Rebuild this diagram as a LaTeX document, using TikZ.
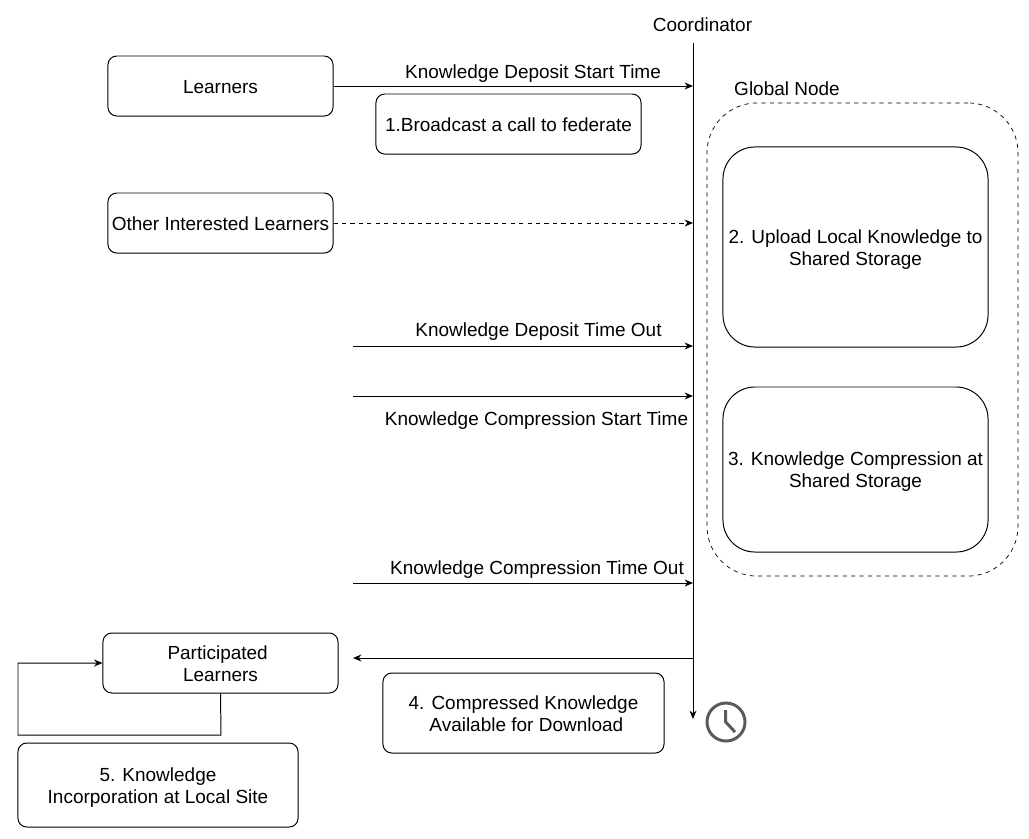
\documentclass[tikz,border=0pt]{standalone}
\usepackage{fontspec}
\setmainfont{Liberation Sans}
\usetikzlibrary{arrows.meta,positioning}
\newcommand{\topgap}[1][11.2pt]{\rule{0pt}{#1}}
\tikzset{
	box/.style={draw,rounded corners=0.22cm,line width=0.7pt,align=center,inner sep=0pt},
	bigbox/.style={box,rounded corners=0.8cm},
	label/.style={inner sep=0pt,align=center},
	flow/.style={-{Stealth[length=6pt,width=5pt]},line width=0.7pt},
	clockline/.style={draw=black!65,line width=2.1pt}
}

\begin{document}
\begin{tikzpicture}[x=0.025cm,y=-0.025cm,font=\fontsize{13.5}{15.6}\selectfont]
	\useasboundingbox (0,0) rectangle (1029,838);
	
	\node[label] (coordinator) at (702.5,25) {Coordinator};
	\node[label] (globallabel) at (787,88.5) {Global Node};
	
	\node[box,minimum width=5.625cm,minimum height=1.5cm] (learners) at (220.5,86) {\topgap Learners};
	\node[box,minimum width=6.625cm,minimum height=1.5cm] (broadcast) at (508.5,124) {\topgap 1.Broadcast a call to federate};
	\node[box,minimum width=5.625cm,minimum height=1.5cm] (others) at (220.5,223) {\topgap Other Interested Learners};
	\node[box,minimum width=5.875cm,minimum height=1.5cm] (participated) at (220.5,663) {\topgap Participated\kern0.3em\\Learners};
	\node[box,minimum width=7.025cm,minimum height=2cm] (available) at (523.5,713) {\topgap 4. Compressed Knowledge\\\kern0.3em Available for Download};
	\node[box,minimum width=7cm,minimum height=2.1cm] (incorporate) at (158,785) {\topgap[13.4pt]5. Knowledge\\Incorporation at Local Site};
	
	\node[draw,dashed,rounded corners=1.25cm,line width=0.5pt,minimum width=7.775cm,minimum height=11.825cm] (global) at (862.5,339.5) {};
	\node[bigbox,minimum width=6.625cm,minimum height=5cm] (upload) at (855.5,247) {\topgap[13.4pt]2. Upload Local Knowledge to\\Shared Storage};
	\node[bigbox,minimum width=6.625cm,minimum height=4.125cm] (compress) at (855.5,469.5) {\topgap[12.6pt]3. Knowledge Compression at\\Shared Storage};
	
	% timeline of the coordinator
	\coordinate (linetop) at (693,43);
	\coordinate (lineend) at (693,719);
	\draw[flow] (linetop) -- (lineend);
	
	\coordinate (depositend) at (693,86);
	\coordinate (otherend) at (693,223);
	\coordinate (timeoutstart) at (353,346);
	\coordinate (timeoutend) at (693,346);
	\coordinate (compstart) at (353,396);
	\coordinate (compend) at (693,396);
	\coordinate (comptimestart) at (353,583);
	\coordinate (comptimeend) at (693,583);
	\coordinate (backstart) at (693,658);
	\coordinate (backend) at (353,658);
	
	\draw[flow] (learners.east) -- (depositend);
	\draw[flow,dashed] (others.east) -- (otherend);
	\draw[flow] (timeoutstart) -- (timeoutend);
	\draw[flow] (compstart) -- (compend);
	\draw[flow] (comptimestart) -- (comptimeend);
	\draw[flow] (backstart) -- (backend);
	
	\node[label] (depositlabel) at (533,74) {Knowledge Deposit Start Time};
	\node[label] (timeoutlabel) at (538.5,331.5) {Knowledge Deposit Time Out};
	\node[label] (complabel) at (536.5,421) {Knowledge Compression Start Time};
	\node[label] (comptimelabel) at (537,570) {Knowledge Compression Time Out};
	
	% loop at the participated learners
	\coordinate (loopa) at (221,735);
	\coordinate (loopb) at (18,735);
	\coordinate (loopc) at (18,663);
	\draw[flow] (participated.south) -- (loopa) -- (loopb) -- (loopc) -- (participated.west);
	
	% clock
	\draw[clockline] (726,722) circle (19);
	\draw[clockline] (725.7,710) -- (725.7,722) -- (735,732);
\end{tikzpicture}
\end{document}
